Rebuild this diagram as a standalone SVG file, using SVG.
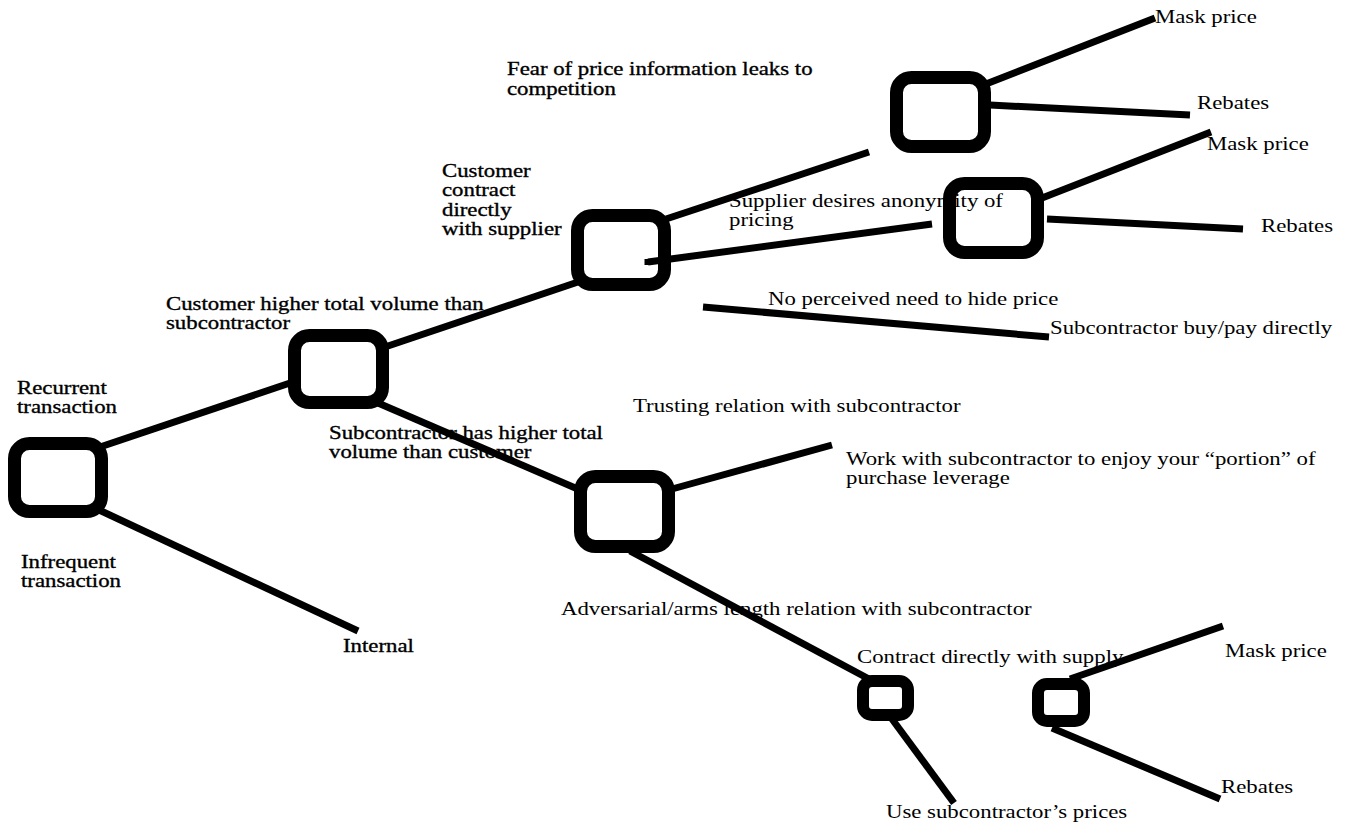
<svg xmlns="http://www.w3.org/2000/svg" width="1351" height="823" viewBox="0 0 1351 823">
  <style>
    .lbl { font-family: "Liberation Serif", "Times New Roman", serif; font-size: 19px; fill: #000; }
    .heavy { stroke: #000; stroke-width: 0.35px; }
    .edge { stroke: #000; stroke-width: 7; fill: none; stroke-linecap: butt; }
    .node { fill: none; stroke: #000; stroke-width: 13; }
    .node.small { stroke-width: 12; }
  </style>
  <rect width="1351" height="823" fill="#fff"/>

  <!-- labels: glyphs are widened 1.2x, so x positions are given in the scaled space -->
  <g id="labels" transform="scale(1.2 1)">
    <text class="lbl heavy" x="14.17" y="394">Recurrent</text>
    <text class="lbl heavy" x="14.17" y="413">transaction</text>
    <text class="lbl heavy" x="17.5" y="568">Infrequent</text>
    <text class="lbl heavy" x="17.5" y="587">transaction</text>
    <text class="lbl heavy" x="285.83" y="652">Internal</text>
    <text class="lbl heavy" x="138.33" y="310">Customer higher total volume than</text>
    <text class="lbl heavy" x="138.33" y="329">subcontractor</text>
    <text class="lbl heavy" x="368.33" y="177">Customer</text>
    <text class="lbl heavy" x="368.33" y="196.5">contract</text>
    <text class="lbl heavy" x="368.33" y="216">directly</text>
    <text class="lbl heavy" x="368.33" y="235.5">with supplier</text>
    <text class="lbl heavy" x="274.17" y="439">Subcontractor has higher total</text>
    <text class="lbl heavy" x="274.17" y="458">volume than customer</text>
    <text class="lbl heavy" x="422.5" y="75">Fear of price information leaks to</text>
    <text class="lbl heavy" x="422.5" y="95">competition</text>

    <text class="lbl" x="607.5" y="207">Supplier desires anonymity of</text>
    <text class="lbl" x="607.5" y="226">pricing</text>
    <text class="lbl" x="640" y="305">No perceived need to hide price</text>
    <text class="lbl" x="875" y="334">Subcontractor buy/pay directly</text>
    <text class="lbl" x="962.5" y="23">Mask price</text>
    <text class="lbl" x="997.5" y="109">Rebates</text>
    <text class="lbl" x="1005.83" y="150">Mask price</text>
    <text class="lbl" x="1050.83" y="232">Rebates</text>
    <text class="lbl" x="527.5" y="412">Trusting relation with subcontractor</text>
    <text class="lbl" x="705" y="465">Work with subcontractor to enjoy your “portion” of</text>
    <text class="lbl" x="705" y="484">purchase leverage</text>
    <text class="lbl" x="467.5" y="615">Adversarial/arms length relation with subcontractor</text>
    <text class="lbl" x="714.17" y="663">Contract directly with supply</text>
    <text class="lbl" x="1020.83" y="657">Mask price</text>
    <text class="lbl" x="1017.5" y="793">Rebates</text>
    <text class="lbl" x="738.33" y="818">Use subcontractor’s prices</text>
  </g>

  <!-- branches of the decision tree -->
  <g id="connectors">
    <line class="edge" x1="100" y1="447" x2="293" y2="382"/>
    <line class="edge" x1="97" y1="509" x2="358" y2="631"/>
    <line class="edge" x1="385" y1="347" x2="578" y2="282"/>
    <line class="edge" x1="378" y1="403" x2="580" y2="490"/>
    <line class="edge" x1="666" y1="219" x2="869" y2="152"/>
    <line class="edge" x1="648" y1="262" x2="932" y2="224"/>
    <line class="edge" x1="648" y1="259" x2="648" y2="265"/>
    <line class="edge" x1="703" y1="307" x2="1049" y2="337"/>
    <line class="edge" x1="986" y1="84" x2="1155" y2="18"/>
    <line class="edge" x1="990" y1="105" x2="1190" y2="115"/>
    <line class="edge" x1="1042" y1="198" x2="1211" y2="132"/>
    <line class="edge" x1="1047" y1="219" x2="1243" y2="229"/>
    <line class="edge" x1="672" y1="489" x2="832" y2="445"/>
    <line class="edge" x1="630" y1="551" x2="869" y2="679"/>
    <line class="edge" x1="892" y1="719" x2="954" y2="803"/>
    <line class="edge" x1="1070" y1="679" x2="1223" y2="626"/>
    <line class="edge" x1="1052" y1="728" x2="1220" y2="799"/>
  </g>

  <!-- decision nodes -->
  <g id="node-root"><rect class="node" x="14.5" y="443.5" width="87" height="68" rx="15"/></g>
  <g id="node-recurrent"><rect class="node" x="294.5" y="335.5" width="88" height="67" rx="15"/></g>
  <g id="node-customer-volume"><rect class="node" x="577.5" y="215.5" width="87" height="69" rx="15"/></g>
  <g id="node-price-leak"><rect class="node" x="896.5" y="77.5" width="88" height="69" rx="15"/></g>
  <g id="node-anonymity"><rect class="node" x="949.5" y="183.5" width="88" height="69" rx="15"/></g>
  <g id="node-subcontractor-volume"><rect class="node" x="580.5" y="476.5" width="88" height="70" rx="15"/></g>
  <g id="node-adversarial"><rect class="node small" x="863" y="681" width="45" height="34" rx="9"/></g>
  <g id="node-contract-direct"><rect class="node small" x="1038" y="684" width="46" height="37" rx="9"/></g>
</svg>
